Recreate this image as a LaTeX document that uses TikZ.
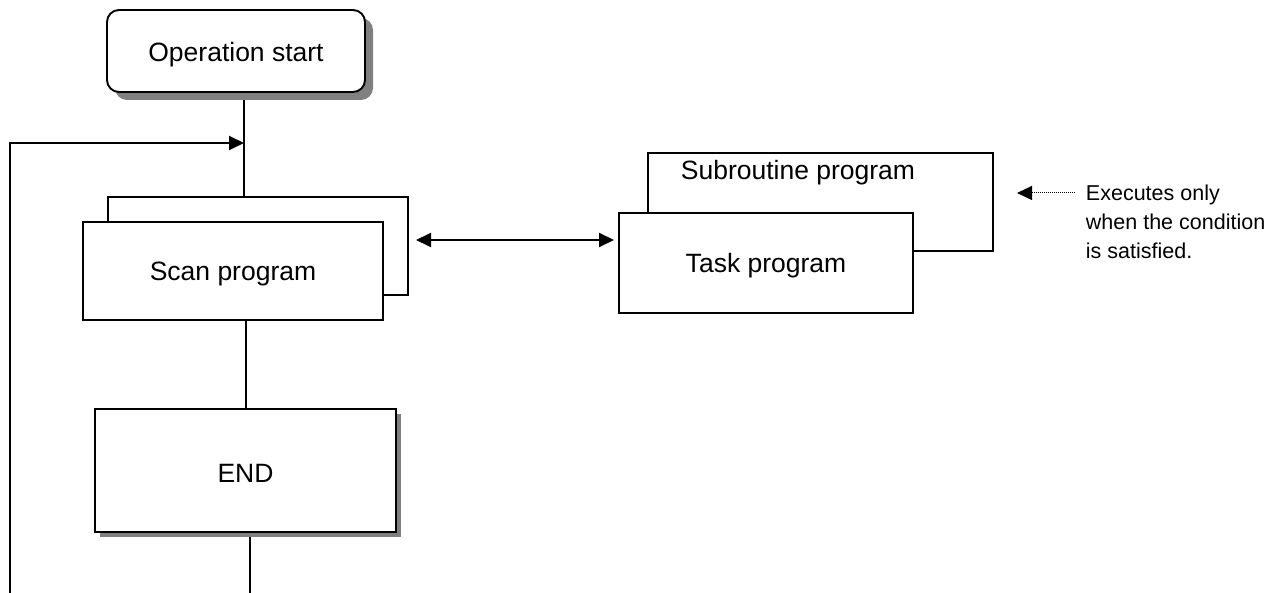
\documentclass[tikz,border=0pt]{standalone}
\usepackage{fontspec}
\setmainfont{Liberation Sans}
\usetikzlibrary{arrows.meta,shadows}
\newcommand{\bltxt}[2]{\raisebox{-#1}[0pt][0pt]{#2}}
\begin{document}
\begin{tikzpicture}[x=1pt,y=-1pt,
  line width=1.9pt,
  box/.style={draw=black,fill=white,rectangle,inner sep=0pt,font=\fontsize{26.5}{31}\selectfont},
  tip/.style={-{Triangle[length=15pt,width=14pt]}},
  btip/.style={{Triangle[length=15pt,width=14pt]}-{Triangle[length=15pt,width=14pt]}},
  note/.style={font=\fontsize{21.5}{29}\selectfont,align=left,inner sep=0pt,anchor=north west}]
\useasboundingbox (0,0) rectangle (1286,593);
% Operation start
\node[box,rounded corners=12pt,minimum width=258pt,minimum height=82pt,
  drop shadow={shadow xshift=8pt,shadow yshift=-8pt,fill=black!50,opacity=1}]
  (start) at (236,51) {\bltxt{10.5pt}{Operation start}};
% Scan program (back + front)
\node[box,minimum width=300pt,minimum height=98pt] (scanback) at (258,246) {};
\node[box,minimum width=300pt,minimum height=98pt] (scan) at (233,271) {\bltxt{9.5pt}{Scan program}};
% Task / Subroutine
\node[box,minimum width=345pt,minimum height=98pt] (sub) at (820.5,202) {};
\node[font=\fontsize{26.5}{31}\selectfont,inner sep=0pt,anchor=base] (subtxt) at (798,180) {Subroutine program};
\node[box,minimum width=294pt,minimum height=100pt] (task) at (766,263) {\bltxt{10pt}{Task program}};
% END
\node[box,minimum width=301pt,minimum height=123pt,
  drop shadow={shadow xshift=5pt,shadow yshift=-5pt,fill=black!50,opacity=1}]
  (endb) at (245.5,470.5) {\bltxt{12.5pt}{END}};
% note
\node[note] (note) at (1085,184) {Executes only\\when the condition\\is satisfied.};
% coordinates
\coordinate (j) at (244,143);
\coordinate (sbtop) at (244,197);
\coordinate (loopb) at (10,593);
\coordinate (loopt) at (10,143);
\coordinate (endout) at (250,593);
\coordinate (endbot) at (250,537);
\coordinate (noteL) at (1075,193);
\coordinate (noteT) at (1017,193);
% connectors
\draw (244,100) -- (sbtop);
\draw (246,320) -- (246,409);
\draw (endbot) -- (endout);
\draw[tip] (loopb) -- (loopt) -- (j);
\draw[btip] (416,240) -- (614,240);
\draw[tip,line width=1pt,densely dotted] (noteL) -- (noteT);
\end{tikzpicture}
\end{document}
